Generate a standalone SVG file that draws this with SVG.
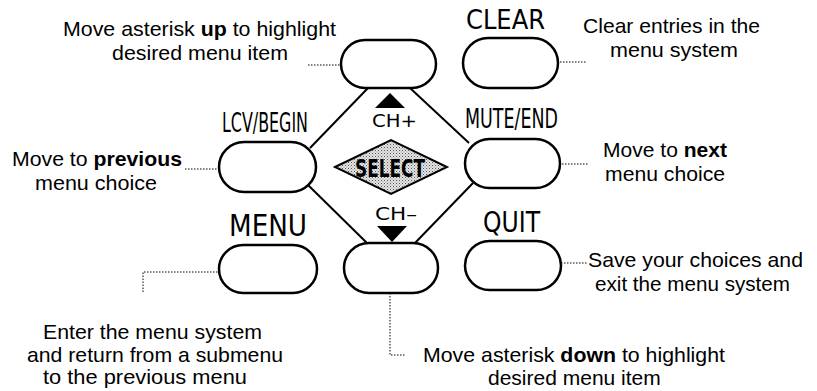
<svg xmlns="http://www.w3.org/2000/svg" width="817" height="391" viewBox="0 0 817 391">
<style>
.pill{fill:#fff;stroke:#000;stroke-width:2.5}
.conn{stroke:#000;stroke-width:2;fill:none}
.dot{stroke:#000;stroke-width:1;stroke-dasharray:1.5 1.5;fill:none}
.lbl{font-family:"DejaVu Sans Condensed","DejaVu Sans",sans-serif;fill:#000}
.txt{font-family:"Liberation Sans",Arial,sans-serif;font-size:21px;fill:#000}
.b{font-weight:bold}
</style>
<defs>
<pattern id="stip" width="3" height="3" patternUnits="userSpaceOnUse">
<rect width="3" height="3" fill="#e4e4e4"/>
<rect x="0" y="0" width="1" height="1" fill="#555"/>
<rect x="1.5" y="1.5" width="1" height="1" fill="#888"/>
</pattern>
</defs>
<rect width="817" height="391" fill="#fff"/>

<g id="connectors">
<line class="conn" x1="368" y1="88" x2="310" y2="148"/>
<line class="conn" x1="410" y1="88" x2="469" y2="143"/>
<line class="conn" x1="308" y1="185" x2="367" y2="243"/>
<line class="conn" x1="415" y1="243" x2="473" y2="183"/>
<polyline class="dot" points="308,65 372,65"/>
<polyline class="dot" points="518,62 587,62"/>
<polyline class="dot" points="185,169 252,169"/>
<polyline class="dot" points="520,164 588,164"/>
<polyline class="dot" points="143,292 143,272 262,272"/>
<polyline class="dot" points="390,275 390,355 405,355"/>
<polyline class="dot" points="522,263 588,263"/>
</g>

<g id="up-button">
<rect class="pill" x="341" y="40" width="95" height="48" rx="24"/>
<polygon points="375,108 405,108 390,93" fill="#000"/>
<text class="lbl" x="372" y="127" font-size="18" textLength="45" lengthAdjust="spacingAndGlyphs">CH+</text>
</g>
<g id="clear-button">
<rect class="pill" x="463" y="38" width="95" height="50" rx="25"/>
<text class="lbl" x="466" y="29" font-size="27" textLength="79" lengthAdjust="spacingAndGlyphs">CLEAR</text>
</g>
<g id="lcv-button">
<rect class="pill" x="219" y="142" width="97" height="50" rx="25"/>
<text class="lbl" x="222" y="132" font-size="27" textLength="86" lengthAdjust="spacingAndGlyphs">LCV/BEGIN</text>
</g>
<g id="mute-button">
<rect class="pill" x="465" y="139" width="95" height="49" rx="24.5"/>
<text class="lbl" x="465" y="128" font-size="27" textLength="93" lengthAdjust="spacingAndGlyphs">MUTE/END</text>
</g>
<g id="select">
<polygon points="335,167 391,140 447,167 391,194" fill="url(#stip)" stroke="#000" stroke-width="2"/>
<text class="lbl" x="355" y="177" font-size="24" font-weight="bold" textLength="70" lengthAdjust="spacingAndGlyphs">SELECT</text>
</g>
<g id="menu-button">
<rect class="pill" x="219" y="245" width="98" height="48" rx="24"/>
<text class="lbl" x="229" y="236" font-size="31" textLength="78" lengthAdjust="spacingAndGlyphs">MENU</text>
</g>
<g id="down-button">
<rect class="pill" x="344" y="243" width="94" height="50" rx="25"/>
<polygon points="377,226 407,226 392,242" fill="#000"/>
<text class="lbl" x="375" y="220" font-size="18" textLength="42" lengthAdjust="spacingAndGlyphs">CH–</text>
</g>
<g id="quit-button">
<rect class="pill" x="465" y="241" width="96" height="49" rx="24.5"/>
<text class="lbl" x="483" y="232" font-size="29" textLength="57" lengthAdjust="spacingAndGlyphs">QUIT</text>
</g>

<g id="desc-up">
<text class="txt" x="63" y="36" textLength="273" lengthAdjust="spacingAndGlyphs">Move asterisk <tspan class="b">up</tspan> to highlight</text>
<text class="txt" x="112" y="60" textLength="176" lengthAdjust="spacingAndGlyphs">desired menu item</text>
</g>
<g id="desc-clear">
<text class="txt" x="583" y="33" textLength="177" lengthAdjust="spacingAndGlyphs">Clear entries in the</text>
<text class="txt" x="610" y="57" textLength="128" lengthAdjust="spacingAndGlyphs">menu system</text>
</g>
<g id="desc-previous">
<text class="txt" x="12" y="166" textLength="170" lengthAdjust="spacingAndGlyphs">Move to <tspan class="b">previous</tspan></text>
<text class="txt" x="35" y="190" textLength="122" lengthAdjust="spacingAndGlyphs">menu choice</text>
</g>
<g id="desc-next">
<text class="txt" x="603" y="157" textLength="124" lengthAdjust="spacingAndGlyphs">Move to <tspan class="b">next</tspan></text>
<text class="txt" x="605" y="181" textLength="120" lengthAdjust="spacingAndGlyphs">menu choice</text>
</g>
<g id="desc-quit">
<text class="txt" x="588" y="267" textLength="215" lengthAdjust="spacingAndGlyphs">Save your choices and</text>
<text class="txt" x="595" y="291" textLength="195" lengthAdjust="spacingAndGlyphs">exit the menu system</text>
</g>
<g id="desc-menu">
<text class="txt" x="43" y="339" textLength="219" lengthAdjust="spacingAndGlyphs">Enter the menu system</text>
<text class="txt" x="27" y="362" textLength="256" lengthAdjust="spacingAndGlyphs">and return from a submenu</text>
<text class="txt" x="43" y="384" textLength="204" lengthAdjust="spacingAndGlyphs">to the previous menu</text>
</g>
<g id="desc-down">
<text class="txt" x="423" y="362" textLength="302" lengthAdjust="spacingAndGlyphs">Move asterisk <tspan class="b">down</tspan> to highlight</text>
<text class="txt" x="488" y="385">desired menu item</text>
</g>
</svg>
